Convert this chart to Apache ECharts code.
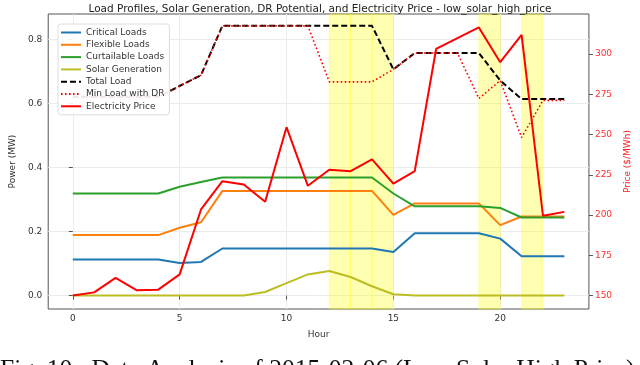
<!DOCTYPE html>
<html>
<head>
<meta charset="utf-8">
<script src="https://cdn.jsdelivr.net/npm/echarts@6/dist/echarts.min.js"></script>
<style>
  html, body { margin: 0; padding: 0; background: #fff; }
  #chart { width: 640px; height: 365px; }
</style>
</head>
<body>
<div id="chart"></div>
<script>
// hourly profiles
const hours = [0, 1, 2, 3, 4, 5, 6, 7, 8, 9, 10, 11, 12, 13, 14, 15, 16, 17, 18, 19, 20, 21, 22, 23];
const criticalLoads = [0.113, 0.113, 0.113, 0.113, 0.113, 0.102, 0.105, 0.147, 0.147, 0.147, 0.147, 0.147, 0.147, 0.147, 0.147, 0.136, 0.195, 0.195, 0.195, 0.195, 0.178, 0.123, 0.123, 0.123];
const flexibleLoads = [0.189, 0.189, 0.189, 0.189, 0.189, 0.212, 0.229, 0.327, 0.327, 0.327, 0.327, 0.327, 0.327, 0.327, 0.327, 0.252, 0.288, 0.288, 0.288, 0.288, 0.220, 0.247, 0.247, 0.247];
const curtailableLoads = [0.319, 0.319, 0.319, 0.319, 0.319, 0.340, 0.355, 0.369, 0.369, 0.369, 0.369, 0.369, 0.369, 0.369, 0.369, 0.319, 0.279, 0.279, 0.279, 0.279, 0.274, 0.244, 0.244, 0.244];
const solarGen = [0, 0, 0, 0, 0, 0, 0, 0, 0, 0.011, 0.039, 0.066, 0.077, 0.058, 0.029, 0.004, 0, 0, 0, 0, 0, 0, 0, 0];
const totalLoad = [0.621, 0.621, 0.621, 0.621, 0.621, 0.655, 0.689, 0.843, 0.843, 0.843, 0.843, 0.843, 0.843, 0.843, 0.843, 0.707, 0.758, 0.758, 0.758, 0.758, 0.672, 0.614, 0.614, 0.614];
const minLoadDR = [0.621, 0.621, 0.621, 0.621, 0.621, 0.655, 0.689, 0.843, 0.843, 0.843, 0.843, 0.843, 0.668, 0.668, 0.668, 0.707, 0.758, 0.758, 0.758, 0.616, 0.672, 0.494, 0.610, 0.610];
const price = [150, 152, 161, 153.3, 153.7, 163.2, 203.5, 221.1, 219, 208.3, 254.6, 218.2, 228.2, 227.3, 234.6, 219.5, 227.3, 303.2, 310, 316.6, 295, 312, 199.6, 202];
// DR event hours (each one-hour span)
const drSpans = [[12, 13], [13, 14], [14, 15], [19, 20], [21, 22]];
const powerTicks = [0, 0.2, 0.4, 0.6, 0.8];
const priceTicks = [150, 175, 200, 225, 250, 275, 300];
const hourTicks = [0, 5, 10, 15, 20];

const pair = (ys) => hours.map((h, i) => [h, ys[i]]);

const chart = echarts.init(document.getElementById("chart"));
const font = "DejaVu Sans";

const option = {
  animation: false,
  textStyle: { fontFamily: font },
  title: {
    text: "Load Profiles, Solar Generation, DR Potential, and Electricity Price - low_solar_high_price",
    left: "center",
    top: -1,
    textStyle: { fontFamily: font, fontSize: 10.5, fontWeight: "normal", color: "#222" },
  },
  legend: {
    orient: "vertical",
    left: 58,
    top: 24,
    z: 20,
    padding: [4, 5, 4, 2],
    itemWidth: 20,
    itemHeight: 10,
    itemGap: 3.3,
    itemStyle: { opacity: 0 },
    backgroundColor: "rgba(255,255,255,0.9)",
    borderColor: "#ddd",
    borderWidth: 1,
    borderRadius: 3,
    textStyle: { fontFamily: font, fontSize: 9, color: "#333" },
    data: ["Critical Loads", "Flexible Loads", "Curtailable Loads", "Solar Generation", "Total Load", "Min Load with DR", "Electricity Price"],
  },
  grid: {
    left: 42,
    right: 43,
    top: 14,
    bottom: 56,
    show: true,
    borderColor: "#555",
    borderWidth: 1,
  },
  xAxis: {
    type: "value",
    min: -1.15,
    max: 24.15,
    splitNumber: 5,
    name: "Hour",
    nameLocation: "middle",
    nameGap: 21,
    nameTextStyle: { fontSize: 9, color: "#333" },
    axisLine: { show: false },
    axisTick: { length: 4, lineStyle: { color: "#555" }, customValues: hourTicks },
    axisLabel: { fontSize: 9, color: "#333", margin: 5, customValues: hourTicks },
    splitLine: { show: true, lineStyle: { color: "#ebebeb", width: 1 } },
  },
  yAxis: [
    {
      type: "value",
      min: -0.042,
      max: 0.88,
      splitNumber: 5,
      name: "Power (MW)",
      nameLocation: "middle",
      nameGap: 27,
      nameTextStyle: { fontSize: 9, color: "#333" },
      axisLine: { show: false },
      axisTick: { show: true, length: 4, lineStyle: { color: "#555" }, customValues: powerTicks },
      axisLabel: { fontSize: 9, color: "#333", margin: 6, customValues: powerTicks, formatter: (v) => v.toFixed(1) },
      splitLine: { show: true, lineStyle: { color: "#ebebeb", width: 1 } },
    },
    {
      type: "value",
      min: 141.67,
      max: 324.93,
      position: "right",
      name: "Price ($/MWh)",
      nameLocation: "middle",
      nameGap: 30,
      nameRotate: 90,
      nameTextStyle: { fontSize: 9, color: "#ff2020" },
      axisLine: { show: false },
      axisTick: { show: true, length: 4, lineStyle: { color: "#555" }, customValues: priceTicks },
      axisLabel: { fontSize: 9, color: "#ff3030", margin: 6, customValues: priceTicks },
      splitLine: { show: false },
    },
  ],
  series: [
    {
      name: "Critical Loads",
      type: "line",
      data: pair(criticalLoads),
      symbol: "none",
      color: "#1f77b4",
      lineStyle: { width: 2 },
      markArea: {
        silent: true,
        itemStyle: { color: "rgba(255,255,0,0.3)", borderColor: "rgba(255,255,0,0.3)", borderWidth: 1 },
        data: drSpans.map((s) => [{ xAxis: s[0] }, { xAxis: s[1] }]),
      },
    },
    { name: "Flexible Loads", type: "line", data: pair(flexibleLoads), symbol: "none", color: "#ff7f0e", lineStyle: { width: 2 } },
    { name: "Curtailable Loads", type: "line", data: pair(curtailableLoads), symbol: "none", color: "#2ca02c", lineStyle: { width: 2 } },
    { name: "Solar Generation", type: "line", data: pair(solarGen), symbol: "none", color: "#bcbd22", lineStyle: { width: 2 } },
    { name: "Total Load", type: "line", data: pair(totalLoad), symbol: "none", color: "#000", lineStyle: { width: 2, type: [6, 3] } },
    { name: "Min Load with DR", type: "line", data: pair(minLoadDR), symbol: "none", color: "#ff0000", lineStyle: { width: 1.6, type: [1.6, 2.4] } },
    { name: "Electricity Price", type: "line", yAxisIndex: 1, data: pair(price), symbol: "none", color: "#ff0000", lineStyle: { width: 2 } },
  ],
  graphic: [
    {
      type: "text",
      left: 0,
      top: 357,
      style: {
        text: "Fig. 10.  Data Analysis of 2015-02-06 (Low Solar High Price)",
        font: "25.5px 'Liberation Serif'",
        fill: "#111",
      },
    },
  ],
};

chart.setOption(option);
</script>
</body>
</html>
